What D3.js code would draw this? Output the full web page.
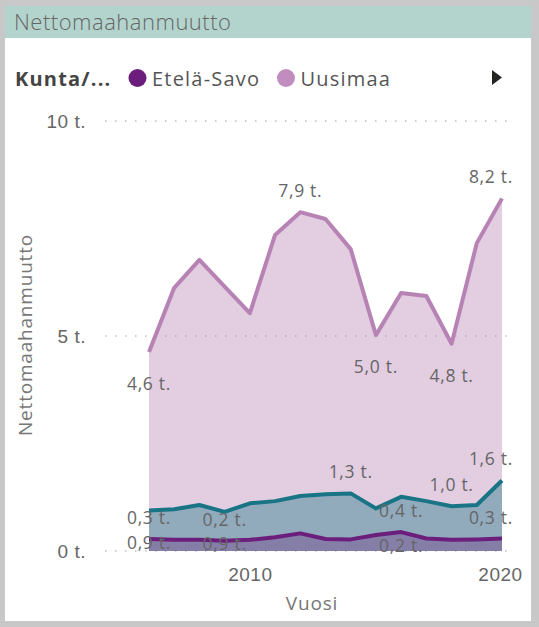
<!DOCTYPE html>
<html><head><meta charset="utf-8">
<script src="https://cdn.jsdelivr.net/npm/d3@7"></script>
<style>
body{margin:0;background:#fff;}
svg{display:block;font-family:"Open Sans","Noto Sans",sans-serif;}
</style>
</head><body>
<svg id="c" width="539" height="627"></svg>
<script>
// ---- data ----
const years = [2006,2007,2008,2009,2010,2011,2012,2013,2014,2015,2016,2017,2018,2019,2020];
const uusimaa = [4.63,6.12,6.77,6.15,5.53,7.35,7.88,7.72,7.02,5.02,6.0,5.93,4.82,7.16,8.2];
const muuKunta = [0.94,0.97,1.07,0.91,1.11,1.16,1.28,1.32,1.34,0.99,1.26,1.16,1.04,1.07,1.64];
const etelaSavo = [0.28,0.26,0.26,0.24,0.26,0.32,0.41,0.28,0.27,0.37,0.44,0.29,0.26,0.27,0.29];
const legendNames = ["Etelä-Savo","Uusimaa"];
const yTickValues = [0,5,10];
const yTickLabels = ["0 t.","5 t.","10 t."];
const xTickValues = [2010,2020];
const xTickLabels = ["2010","2020"];
// data labels: series, year, text, placement
const labelSeries = ["uusimaa","uusimaa","uusimaa","uusimaa","uusimaa",
                     "muu","muu","muu","muu","muu",
                     "etela","etela","etela","etela","etela"];
const labelYears  = [2006,2012,2015,2018,2020, 2006,2009,2014,2018,2020, 2006,2009,2016,2016,2020];
const labelTexts  = ["4,6 t.","7,9 t.","5,0 t.","4,8 t.","8,2 t.",
                     "0,9 t.","0,9 t.","1,3 t.","1,0 t.","1,6 t.",
                     "0,3 t.","0,2 t.","0,4 t.","0,2 t.","0,3 t."];
const labelPlace  = ["below","above","below","below","above",
                     "below","below","above","above","above",
                     "above","above","above","under","above"];

// ---- setup ----
const svg = d3.select("#c");
const W = 539, H = 627;
svg.append("rect").attr("width",W).attr("height",H).attr("fill","#c8c8c8");
svg.append("rect").attr("x",5).attr("y",6).attr("width",526).attr("height",615).attr("fill","#ffffff");
svg.append("rect").attr("x",5).attr("y",6).attr("width",526).attr("height",32).attr("fill","#b3d4cc");
svg.append("text").attr("x",14).attr("y",21).attr("dominant-baseline","central")
  .attr("font-size",22).attr("letter-spacing",0.5).attr("fill","#666").attr("font-weight",300).text("Nettomaahanmuutto");

// legend
const leg = svg.append("g");
leg.append("text").attr("x",15).attr("y",78).attr("dominant-baseline","central")
  .attr("font-size",20).attr("letter-spacing",1.2).attr("font-weight",700).attr("fill","#444").text("Kunta/...");
const legColors = ["#6b1e7c","#c18cbe"];
const legX = [137.5,286];
legendNames.forEach((n,i)=>{
  leg.append("circle").attr("cx",legX[i]).attr("cy",78).attr("r",9).attr("fill",legColors[i]);
  leg.append("text").attr("x",legX[i]+14.5).attr("y",78).attr("dominant-baseline","central")
    .attr("font-size",20).attr("letter-spacing",1.2).attr("fill","#555").text(n);
});
leg.append("path").attr("d","M492,70 L502,77.5 L492,85 Z").attr("fill","#252423");

// scales
const x = d3.scaleLinear().domain([2006,2020]).range([149,502]);
const y = d3.scaleLinear().domain([0,10]).range([551,121]);

// grid
svg.append("g").selectAll("line").data(yTickValues).join("line")
  .attr("x1",105).attr("x2",512).attr("y1",d=>y(d)).attr("y2",d=>y(d))
  .attr("stroke","#bdbdbd").attr("stroke-width",1.5).attr("stroke-dasharray","1.5,8.5");

// y axis
const yAx = svg.append("g").attr("transform","translate(86,0)")
  .call(d3.axisLeft(y).tickValues(yTickValues).tickFormat((d,i)=>yTickLabels[i]).tickSize(0).tickPadding(0));
yAx.select(".domain").remove();
yAx.selectAll("text").attr("font-size",19).attr("letter-spacing",0.5).attr("fill","#666").attr("font-family",null)
  .attr("dy",null).attr("dominant-baseline","central");

// x axis
const xAx = svg.append("g").attr("transform","translate(0,574)")
  .call(d3.axisBottom(x).tickValues(xTickValues).tickFormat((d,i)=>xTickLabels[i]).tickSize(0).tickPadding(0));
xAx.select(".domain").remove();
xAx.selectAll("text").attr("font-size",19).attr("letter-spacing",0.5).attr("fill","#666").attr("font-family",null)
  .attr("y",0).attr("dy",null).attr("dominant-baseline","central");
xAx.selectAll(".tick text").filter((d,i)=>i===xTickValues.length-1).attr("dx",-2);

// axis titles
svg.append("text").attr("transform","translate(25,335) rotate(-90)")
  .attr("text-anchor","middle").attr("dominant-baseline","central")
  .attr("font-size",19).attr("letter-spacing",0.8).attr("fill","#777").text("Nettomaahanmuutto");
svg.append("text").attr("x",312).attr("y",603).attr("text-anchor","middle")
  .attr("dominant-baseline","central").attr("font-size",19).attr("letter-spacing",0.8).attr("fill","#777").text("Vuosi");

// series
const series = [
  {key:"uusimaa", vals:uusimaa, color:"#b783b4", op:0.4},
  {key:"muu", vals:muuKunta, color:"#197585", op:0.4},
  {key:"etela", vals:etelaSavo, color:"#6b1e7c", op:0.3}
];
const area = d3.area().x((d,i)=>x(years[i])).y0(y(0)).y1(d=>y(d));
const line = d3.line().x((d,i)=>x(years[i])).y(d=>y(d));
const gA = svg.append("g"), gL = svg.append("g");
series.forEach(s=>{
  gA.append("path").attr("d",area(s.vals)).attr("fill",s.color).attr("fill-opacity",s.op);
});
series.forEach(s=>{
  gL.append("path").attr("d",line(s.vals)).attr("fill","none").attr("stroke",s.color)
    .attr("stroke-width",4).attr("stroke-linejoin","round");
});

// labels
const byKey = {}; series.forEach(s=>byKey[s.key]=s);
const offs = {above:-22, below:31, under:13};
const gT = svg.append("g");
labelTexts.forEach((t,i)=>{
  const s = byKey[labelSeries[i]];
  const yi = years.indexOf(labelYears[i]);
  const px = x(labelYears[i]), py = y(s.vals[yi]);
  const el = gT.append("text").attr("x",px).attr("y",py+offs[labelPlace[i]])
    .attr("text-anchor","middle").attr("dominant-baseline","central")
    .attr("font-size",17.5).attr("letter-spacing",0.7).attr("fill","#666").text(t);
  const w = el.node().getComputedTextLength();
  if (px + w/2 > 513) el.attr("x", 513 - w/2);
});
</script>
</body></html>
